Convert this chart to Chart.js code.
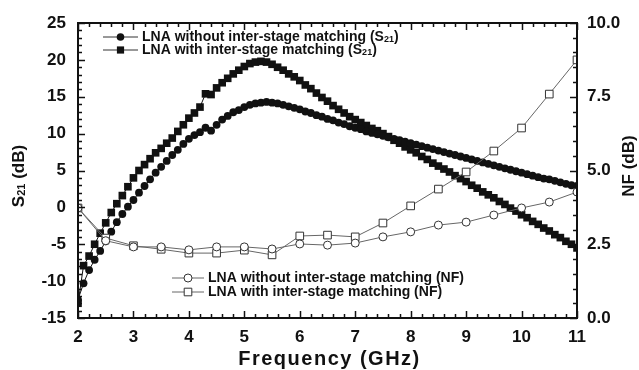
<!DOCTYPE html>
<html>
<head>
<meta charset="utf-8">
<script src="https://cdn.jsdelivr.net/npm/chart.js@4.4.1/dist/chart.umd.min.js"></script>
<style>
    html, body { margin: 0; padding: 0; background: #ffffff; }
    #wrap { width: 639px; height: 370px; }
</style>
</head>
<body>
<div id="wrap"><canvas id="lnaChart" width="639" height="370"></canvas></div>
<script>
// ################ data ################

// S21 sweep, 0.1 GHz step
const freqS21 = [
    2, 2.1, 2.2, 2.3, 2.4, 2.5, 2.6, 2.7, 2.8, 2.9,
    3, 3.1, 3.2, 3.3, 3.4, 3.5, 3.6, 3.7, 3.8, 3.9,
    4, 4.1, 4.2, 4.3, 4.4, 4.5, 4.6, 4.7, 4.8, 4.9,
    5, 5.1, 5.2, 5.3, 5.4, 5.5, 5.6, 5.7, 5.8, 5.9,
    6, 6.1, 6.2, 6.3, 6.4, 6.5, 6.6, 6.7, 6.8, 6.9,
    7, 7.1, 7.2, 7.3, 7.4, 7.5, 7.6, 7.7, 7.8, 7.9,
    8, 8.1, 8.2, 8.3, 8.4, 8.5, 8.6, 8.7, 8.8, 8.9,
    9, 9.1, 9.2, 9.3, 9.4, 9.5, 9.6, 9.7, 9.8, 9.9,
    10, 10.1, 10.2, 10.3, 10.4, 10.5, 10.6, 10.7, 10.8, 10.9,
    11
];

const s21Without = [
    -12.5, -10.3, -8.5, -7.1, -5.9, -4.6, -3.3, -2.0, -0.9, 0.1,
    1.0, 2.0, 2.9, 3.8, 4.7, 5.5, 6.3, 7.1, 7.8, 8.6,
    9.3, 9.8, 10.2, 10.8, 10.4, 11.2, 11.9, 12.4, 12.9, 13.2,
    13.6, 13.9, 14.1, 14.2, 14.3, 14.2, 14.1, 13.9, 13.7, 13.5,
    13.3, 13.0, 12.8, 12.5, 12.3, 12.0, 11.8, 11.5, 11.3, 11.0,
    10.8, 10.6, 10.3, 10.1, 9.9, 9.7, 9.5, 9.3, 9.1, 8.9,
    8.7, 8.5, 8.3, 8.1, 7.9, 7.7, 7.5, 7.3, 7.1, 6.9,
    6.7, 6.5, 6.3, 6.1, 5.9, 5.7, 5.5, 5.3, 5.1, 4.9,
    4.7, 4.5, 4.3, 4.1, 3.9, 3.8, 3.6, 3.4, 3.2, 3.0,
    2.9
];

const s21With = [
    -13.0, -7.9, -6.6, -5.0, -3.5, -2.1, -0.7, 0.5, 1.6, 2.8,
    4.0, 5.0, 5.8, 6.6, 7.4, 8.0, 8.7, 9.4, 10.3, 11.2,
    12.1, 12.8, 13.6, 15.4, 15.3, 16.2, 16.9, 17.5, 18.1, 18.6,
    19.1, 19.5, 19.7, 19.8, 19.7, 19.4, 19.0, 18.6, 18.1, 17.7,
    17.2, 16.6, 16.1, 15.5, 14.9, 14.4, 13.8, 13.3, 12.8, 12.3,
    11.9, 11.5, 11.1, 10.7, 10.4, 10.0, 9.6, 9.1, 8.7, 8.2,
    7.8, 7.4, 6.9, 6.5, 6.0, 5.6, 5.2, 4.8, 4.3, 3.9,
    3.5, 3.0, 2.6, 2.1, 1.7, 1.3, 0.8, 0.4, -0.1, -0.5,
    -1.0, -1.4, -1.9, -2.3, -2.8, -3.2, -3.7, -4.1, -4.6, -5.0,
    -5.5
];

// NF sweep, 0.5 GHz step
const freqNF = [2, 2.5, 3, 3.5, 4, 4.5, 5, 5.5, 6, 6.5, 7, 7.5, 8, 8.5, 9, 9.5, 10, 10.5, 11];
const nfWithout = [3.73, 2.62, 2.41, 2.41, 2.31, 2.41, 2.41, 2.34, 2.51, 2.47, 2.54, 2.75, 2.92, 3.15, 3.25, 3.49, 3.73, 3.93, 4.27];
const nfWith = [3.73, 2.71, 2.45, 2.33, 2.2, 2.2, 2.3, 2.14, 2.78, 2.81, 2.75, 3.22, 3.8, 4.37, 4.95, 5.66, 6.44, 7.59, 8.75];

// tick labels
const freqTicks = [2, 3, 4, 5, 6, 7, 8, 9, 10, 11];
const s21Ticks = [-15, -10, -5, 0, 5, 10, 15, 20, 25];
const nfTicks = [0, 2.5, 5, 7.5, 10];

// ################ helpers ################

const FONT = "'Liberation Sans', Arial, Helvetica, sans-serif";
const INK = "#111111";

function toPoints(xs, ys) {
    return xs.map((x, i) => ({ x: x, y: ys[i] }));
}

// draws text pieces one after another, [text, size, dy]
function drawPieces(ctx, pieces, x, y) {
    let cx = x;
    pieces.forEach((p) => {
        ctx.font = "bold " + p[1] + "px " + FONT;
        ctx.fillText(p[0], cx, y + (p[2] || 0));
        cx += ctx.measureText(p[0]).width;
    });
    return cx - x;
}

function piecesWidth(ctx, pieces) {
    let w = 0;
    pieces.forEach((p) => {
        ctx.font = "bold " + p[1] + "px " + FONT;
        w += ctx.measureText(p[0]).width;
    });
    return w;
}

function legendMarker(ctx, style, x, y, filled) {
    ctx.beginPath();
    if (style === "circle") {
        ctx.arc(x, y, filled ? 3.8 : 4, 0, Math.PI * 2);
    } else {
        const h = filled ? 3.6 : 3.8;
        ctx.rect(x - h, y - h, h * 2, h * 2);
    }
    ctx.fillStyle = filled ? INK : "#ffffff";
    ctx.fill();
    if (!filled) {
        ctx.lineWidth = 1;
        ctx.strokeStyle = "#333333";
        ctx.stroke();
    }
}

function legendRow(ctx, x0, x1, y, style, filled, pieces) {
    ctx.strokeStyle = filled ? "#333333" : "#666666";
    ctx.lineWidth = 1;
    ctx.beginPath();
    ctx.moveTo(x0, y);
    ctx.lineTo(x1, y);
    ctx.stroke();
    legendMarker(ctx, style, (x0 + x1) / 2, y, filled);
    ctx.fillStyle = INK;
    ctx.textAlign = "left";
    ctx.textBaseline = "middle";
    drawPieces(ctx, pieces, x1 + 4, y);
}

// ################ decorations: frame, inward ticks, titles, legends ################

const decorPlugin = {
    id: "decor",
    afterDatasetsDraw(chart) {
        const ctx = chart.ctx;
        const { left, right, top, bottom } = chart.chartArea;
        const xs = chart.scales.x;
        const ys = chart.scales.y;
        const ys2 = chart.scales.y2;

        ctx.save();
        ctx.strokeStyle = INK;
        ctx.lineWidth = 1.5;
        ctx.beginPath();
        for (let k = 0; k <= 45; k++) {
            const v = 2 + k * 0.2;
            const px = Math.round(xs.getPixelForValue(v)) + 0.5;
            const len = k % 5 === 0 ? 7 : 4;
            ctx.moveTo(px, bottom);
            ctx.lineTo(px, bottom - len);
            ctx.moveTo(px, top);
            ctx.lineTo(px, top + len);
        }
        for (let v = -15; v <= 25; v++) {
            const py = Math.round(ys.getPixelForValue(v)) + 0.5;
            const len = v % 5 === 0 ? 7 : 4;
            ctx.moveTo(left, py);
            ctx.lineTo(left + len, py);
        }
        for (let k = 0; k <= 20; k++) {
            const py = Math.round(ys2.getPixelForValue(k * 0.5)) + 0.5;
            const len = k % 5 === 0 ? 7 : 4;
            ctx.moveTo(right, py);
            ctx.lineTo(right - len, py);
        }
        ctx.stroke();

        // frame
        ctx.lineWidth = 2;
        ctx.strokeRect(left, top, right - left, bottom - top);

        // axis titles
        ctx.fillStyle = INK;
        ctx.textBaseline = "middle";
        ctx.textAlign = "center";
        ctx.font = "bold 20px " + FONT;
        ctx.letterSpacing = "1.5px";
        ctx.fillText("Frequency (GHz)", (left + right) / 2 + 2, 359);
        ctx.letterSpacing = "0px";

        ctx.textAlign = "left";
        const yTitle = [["S", 17], ["21", 11, 3], [" (dB)", 17]];
        ctx.save();
        ctx.translate(19, 176);
        ctx.rotate(-Math.PI / 2);
        drawPieces(ctx, yTitle, -piecesWidth(ctx, yTitle) / 2, 0);
        ctx.restore();

        ctx.save();
        ctx.translate(629, 166);
        ctx.rotate(-Math.PI / 2);
        ctx.font = "bold 17px " + FONT;
        ctx.textAlign = "center";
        ctx.fillText("NF (dB)", 0, 0);
        ctx.restore();

        // legends
        legendRow(ctx, 103, 138, 37, "circle", true,
            [["LNA without inter-stage matching (S", 14], ["21", 9, 3], [")", 14]]);
        legendRow(ctx, 103, 138, 50, "rect", true,
            [["LNA with inter-stage matching (S", 14], ["21", 9, 3], [")", 14]]);
        legendRow(ctx, 172, 204, 278, "circle", false,
            [["LNA without inter-stage matching (NF)", 14]]);
        legendRow(ctx, 172, 204, 292, "rect", false,
            [["LNA with inter-stage matching (NF)", 14]]);

        ctx.restore();
    },
};

// ################ chart ################

const tickFont = { family: FONT, size: 17, weight: "bold" };

const lnaCtx = document.getElementById("lnaChart").getContext("2d");
const lnaChart = new Chart(lnaCtx, {
    type: "scatter",
    data: {
        datasets: [
            {
                label: "LNA without inter-stage matching (NF)",
                data: toPoints(freqNF, nfWithout),
                yAxisID: "y2",
                showLine: true,
                borderColor: "#666666",
                borderWidth: 1,
                pointStyle: "circle",
                pointRadius: 4,
                pointBackgroundColor: "#ffffff",
                pointBorderColor: "#333333",
                pointBorderWidth: 1,
            },
            {
                label: "LNA with inter-stage matching (NF)",
                data: toPoints(freqNF, nfWith),
                yAxisID: "y2",
                showLine: true,
                borderColor: "#666666",
                borderWidth: 1,
                pointStyle: "rect",
                pointRadius: 5.4,
                pointBackgroundColor: "#ffffff",
                pointBorderColor: "#333333",
                pointBorderWidth: 1,
            },
            {
                label: "LNA without inter-stage matching (S21)",
                data: toPoints(freqS21, s21Without),
                yAxisID: "y",
                showLine: true,
                borderColor: INK,
                borderWidth: 1,
                pointStyle: "circle",
                pointRadius: 3.9,
                pointBackgroundColor: INK,
                pointBorderWidth: 0,
            },
            {
                label: "LNA with inter-stage matching (S21)",
                data: toPoints(freqS21, s21With),
                yAxisID: "y",
                showLine: true,
                borderColor: INK,
                borderWidth: 1,
                pointStyle: "rect",
                pointRadius: 5.4,
                pointBackgroundColor: INK,
                pointBorderWidth: 0,
            },
        ],
    },
    options: {
        responsive: false,
        animation: false,
        layout: { padding: { top: 23, left: 0, right: 0, bottom: 0 } },
        plugins: {
            legend: { display: false },
            tooltip: { enabled: false },
        },
        scales: {
            x: {
                type: "linear",
                min: 2,
                max: 11,
                afterBuildTicks: (s) => { s.ticks = freqTicks.map((v) => ({ value: v })); },
                afterFit: (s) => { s.height = 52; },
                grid: { display: false, drawTicks: false },
                border: { display: false },
                ticks: { padding: 9, color: INK, font: tickFont },
            },
            y: {
                position: "left",
                min: -15,
                max: 25,
                afterBuildTicks: (s) => { s.ticks = s21Ticks.map((v) => ({ value: v })); },
                afterFit: (s) => { s.width = 78; },
                grid: { display: false, drawTicks: false },
                border: { display: false },
                ticks: { padding: 12, color: INK, font: tickFont },
            },
            y2: {
                position: "right",
                min: 0,
                max: 10,
                afterBuildTicks: (s) => { s.ticks = nfTicks.map((v) => ({ value: v })); },
                afterFit: (s) => { s.width = 62; },
                grid: { display: false, drawTicks: false },
                border: { display: false },
                ticks: {
                    padding: 10,
                    color: INK,
                    font: tickFont,
                    callback: (v) => Number(v).toFixed(1),
                },
            },
        },
    },
    plugins: [decorPlugin],
});
</script>
</body>
</html>
